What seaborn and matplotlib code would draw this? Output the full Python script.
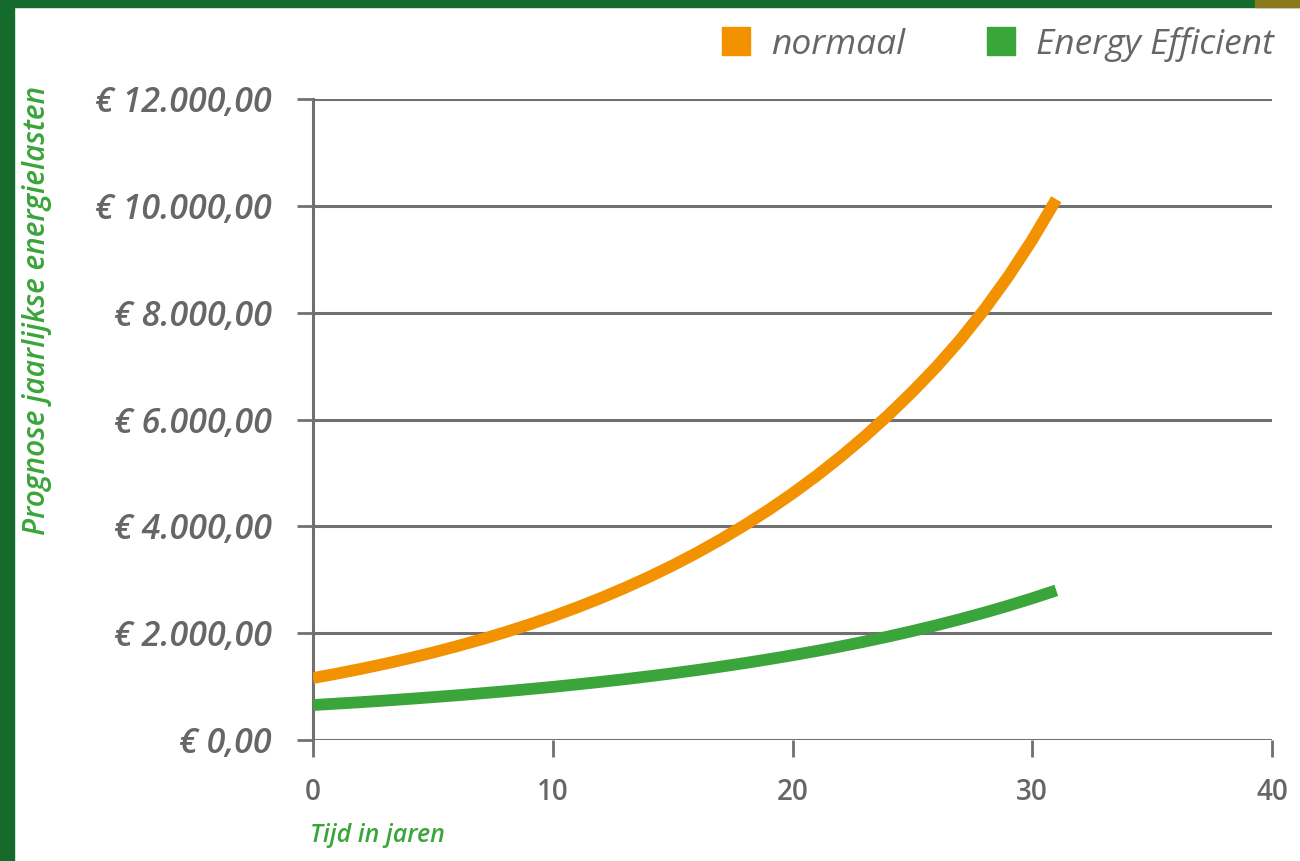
import pandas as pd
import matplotlib.pyplot as plt
import seaborn as sns
from matplotlib.patches import Rectangle
from matplotlib.lines import Line2D

years = list(range(32))
normaal = [1160, 1243, 1332, 1427, 1529, 1638, 1756, 1881, 2016, 2160,
           2314, 2480, 2657, 2847, 3050, 3268, 3502, 3753, 4021, 4308,
           4616, 4946, 5300, 5679, 6085, 6520, 6986, 7496, 8058, 8679,
           9365, 10123]
efficient = [655, 682, 709, 739, 770, 803, 837, 874, 912, 953,
             995, 1041, 1089, 1139, 1193, 1249, 1309, 1373, 1440, 1512,
             1587, 1667, 1752, 1842, 1938, 2040, 2148, 2263, 2385, 2515,
             2654, 2801]
series_names = ['normaal', 'Energy Efficient']
series_colors = ['#f39200', '#3aa53a']
yticks = [0, 2000, 4000, 6000, 8000, 10000, 12000]
ytick_labels = ['€ 0,00', '€ 2.000,00', '€ 4.000,00', '€ 6.000,00',
                '€ 8.000,00', '€ 10.000,00', '€ 12.000,00']
xticks = [0, 10, 20, 30, 40]

df = pd.DataFrame({
    'jaar': years * 2,
    'kosten': normaal + efficient,
    'serie': [series_names[0]] * len(years) + [series_names[1]] * len(years),
})

sns.set_style('white')
plt.rcParams['font.family'] = ['Open Sans', 'DejaVu Sans']

fig = plt.figure(figsize=(13, 8.61), dpi=100)
ax = fig.add_axes([0.2408, 0.1405, 0.7377, 0.7445])

grey = '#707070'
label_grey = '#666666'
green_txt = '#3aa53a'

for y in yticks:
    ax.axhline(y, color=grey, lw=2.2, zorder=1)

sns.lineplot(data=df, x='jaar', y='kosten', hue='serie',
             palette=dict(zip(series_names, series_colors)),
             lw=8.5, ax=ax, legend=False, zorder=3)
for ln in ax.get_lines():
    ln.set_solid_capstyle('butt')

ax.set_xlim(0, 40)
ax.set_ylim(0, 12000)
ax.set_xticks(xticks)
ax.set_xticklabels([str(x) for x in xticks], fontsize=20, color=label_grey,
                   fontweight='semibold')
ax.set_yticks(yticks)
ax.set_yticklabels(ytick_labels, fontsize=24.5, color=label_grey,
                   fontstyle='italic', fontweight='semibold')
ax.tick_params(axis='x', bottom=True, direction='out', length=12, width=2,
               color=grey, pad=15)
ax.tick_params(axis='y', left=True, direction='out', length=11.5, width=2,
               color=grey, pad=18)
ax.spines['top'].set_visible(False)
ax.spines['right'].set_visible(False)
ax.spines['bottom'].set_visible(False)
ax.spines['left'].set_color(grey)
ax.spines['left'].set_linewidth(2.2)
ax.set_xlabel('')
ax.set_ylabel('')
ax.set_facecolor('white')

fig.text(310 / 1300, 1 - 835 / 861, 'Tijd in jaren', color=green_txt,
         fontsize=18, fontstyle='italic', fontweight='semibold',
         ha='left', va='center')
fig.text(37 / 1300, 1 - 310 / 861, 'Prognose jaarlijkse energielasten',
         color=green_txt, fontsize=21.5, fontstyle='italic', fontweight='semibold',
         rotation=90, ha='center', va='center')

handles = [Line2D([], [], ls='', marker='s', markersize=20, color=c) for c in series_colors]
leg = fig.legend(handles, series_names, loc='upper right',
                 bbox_to_anchor=(1306 / 1300, 1 + 5 / 861), ncol=2, frameon=False,
                 prop={'size': 25.5, 'style': 'italic'}, handletextpad=0.5,
                 columnspacing=2.2, handlelength=1.0)
for t in leg.get_texts():
    t.set_color(label_grey)

# dark green frame on the left and top, olive corner top right
fig.patches.append(Rectangle((0, 0), 14 / 1300, 1, transform=fig.transFigure,
                             color='#146b2b', zorder=10))
fig.patches.append(Rectangle((0, 1 - 7 / 861), 1, 7 / 861, transform=fig.transFigure,
                             color='#146b2b', zorder=10))
fig.patches.append(Rectangle((1255 / 1300, 1 - 7 / 861), 45 / 1300, 7 / 861,
                             transform=fig.transFigure, color='#8a7a1e', zorder=11))

fig.savefig('out.png', dpi=100, facecolor='white')
